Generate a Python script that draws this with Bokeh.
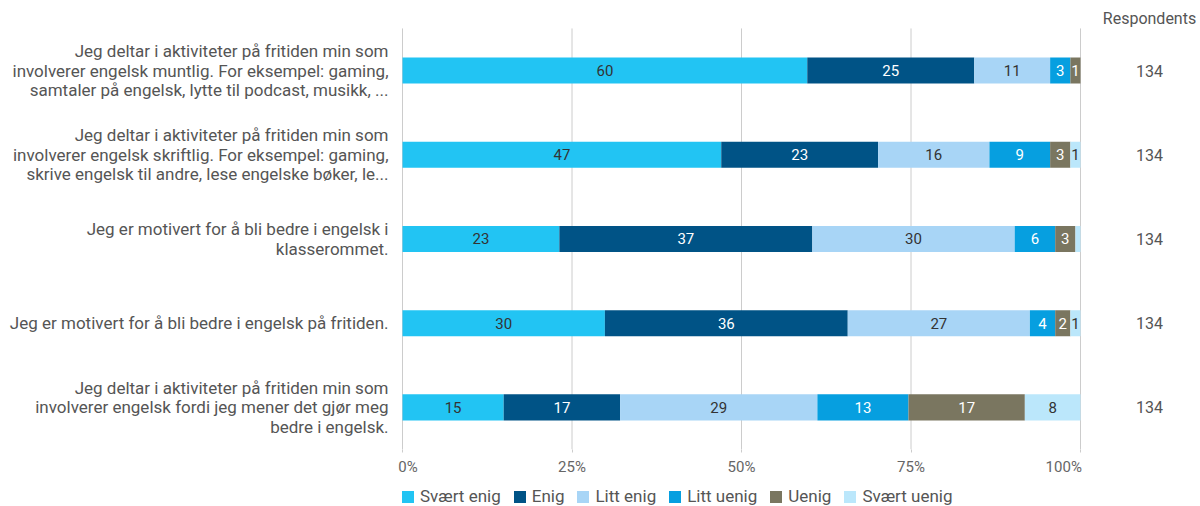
from bokeh.plotting import figure
from bokeh.layouts import column
from bokeh.models import (Range1d, FixedTicker, PrintfTickFormatter,
                          Legend, LegendItem, ColumnDataSource)
from bokeh.core.properties import value
from bokeh.embed import file_html
from bokeh.resources import INLINE

categories = [
    "Jeg deltar i aktiviteter på fritiden min som\ninvolverer engelsk muntlig. For eksempel: gaming,\nsamtaler på engelsk, lytte til podcast, musikk, ...",
    "Jeg deltar i aktiviteter på fritiden min som\ninvolverer engelsk skriftlig. For eksempel: gaming,\nskrive engelsk til andre, lese engelske bøker, le...",
    "Jeg er motivert for å bli bedre i engelsk i\nklasserommet.",
    "Jeg er motivert for å bli bedre i engelsk på fritiden.",
    "Jeg deltar i aktiviteter på fritiden min som\ninvolverer engelsk fordi jeg mener det gjør meg\nbedre i engelsk.",
]
levels = ["Svært enig", "Enig", "Litt enig", "Litt uenig", "Uenig", "Svært uenig"]
svaert_enig = [80, 63, 31, 40, 20]
enig = [33, 31, 50, 48, 23]
litt_enig = [15, 22, 40, 36, 39]
litt_uenig = [4, 12, 8, 5, 18]
uenig = [2, 4, 4, 3, 23]
svaert_uenig = [0, 2, 1, 2, 11]
respondents = [134, 134, 134, 134, 134]
x_ticks = [0, 25, 50, 75, 100]

series = [svaert_enig, enig, litt_enig, litt_uenig, uenig, svaert_uenig]
colors = ["#22c4f3", "#005386", "#a8d5f6", "#069fe0", "#7a7660", "#bbe7fb"]
text_colors = ["#333333", "#ffffff", "#333333", "#ffffff", "#ffffff", "#333333"]

FONT = "Roboto"
NB = "\u00a0"
n = len(categories)
ys = [n - 1 - i for i in range(n)]

# geometry: plot region 0..100 maps to x 402..1080, rows 84.4 px apart
PX = 6.78
X0 = -402 / PX
X1 = 100 + 120 / PX
ROW = 84.4
Y_TOP = n - 0.5 + 28 / ROW

p = figure(width=1200, height=478, output_backend="svg", toolbar_location=None,
           x_range=Range1d(X0, X1), y_range=Range1d(-0.5, Y_TOP),
           min_border_left=0, min_border_right=0, min_border_top=0,
           min_border_bottom=28)
p.outline_line_color = None
p.yaxis.visible = False
p.xgrid.visible = False
p.ygrid.visible = False

p.xaxis.ticker = FixedTicker(ticks=x_ticks)
p.xaxis.formatter = PrintfTickFormatter(format="%d%%")
p.xaxis.major_label_overrides = {0: NB * 3 + "0%", 100: "100%" + NB * 9}
p.xaxis.axis_line_color = None
p.xaxis.major_tick_line_color = "#cccccc"
p.xaxis.major_tick_out = 3
p.xaxis.major_tick_in = 0
p.xaxis.minor_tick_line_color = None
p.xaxis.major_label_standoff = 5
p.xaxis.major_label_text_font = FONT
p.xaxis.major_label_text_font_size = "15px"
p.xaxis.major_label_text_color = "#666666"

# vertical grid lines over the bar area only
p.segment(x0=x_ticks, x1=x_ticks, y0=[-0.5] * len(x_ticks),
          y1=[n - 0.5] * len(x_ticks), line_color="#cccccc", line_width=1)

lefts = [0.0] * n
for k, vals in enumerate(series):
    pcts = [v / r * 100 for v, r in zip(vals, respondents)]
    rights = [l + pc for l, pc in zip(lefts, pcts)]
    src = ColumnDataSource(dict(y=ys, left=lefts, right=rights))
    p.hbar(y="y", left="left", right="right", height=0.31, source=src,
           fill_color=colors[k], line_color=None)
    tx, ty, tt = [], [], []
    for i in range(n):
        if pcts[i] >= 1:
            tx.append((lefts[i] + rights[i]) / 2)
            ty.append(ys[i])
            tt.append(str(int(round(pcts[i]))))
    p.text(x=tx, y=ty, text=tt, text_align="center", text_baseline="middle",
           text_font=value(FONT), text_font_size="15px", text_color=text_colors[k])
    lefts = rights

# category labels (left of bars)
p.text(x=[-14 / PX] * n, y=ys, text=categories, text_align="right",
       text_baseline="middle", text_font=value(FONT), text_font_size="17px",
       text_color="#555555", text_line_height=0.98)
# respondents column
RX = 100 + 69 / PX
p.text(x=[RX] * n, y=ys, text=[str(r) for r in respondents], text_align="center",
       text_baseline="middle", text_font=value(FONT), text_font_size="16px",
       text_color="#555555")
p.text(x=[RX], y=[n - 0.5 + 10 / ROW], text=["Respondents"], text_align="center",
       text_baseline="middle", text_font=value(FONT), text_font_size="16px",
       text_color="#555555")

# legend strip
lg = figure(width=1200, height=28, output_backend="svg", toolbar_location=None,
            x_range=Range1d(0, 1), y_range=Range1d(0, 1),
            x_axis_type=None, y_axis_type=None,
            min_border_left=0, min_border_right=0, min_border_top=0,
            min_border_bottom=0)
lg.outline_line_color = None
lg.xgrid.visible = False
lg.ygrid.visible = False
items = []
for k, name in enumerate(levels):
    r = lg.hbar(y=[-10], left=[0], right=[1], height=0.5,
                fill_color=colors[k], line_color=None)
    items.append(LegendItem(label=name, renderers=[r]))
legend = Legend(items=items, orientation="horizontal", location=(400, 0),
                glyph_width=15, glyph_height=15, label_standoff=5, spacing=11,
                padding=2, margin=0, border_line_color=None,
                background_fill_alpha=0,
                label_text_font=FONT, label_text_font_size="17px",
                label_text_color="#555555")
lg.add_layout(legend, "center")

layout = column(p, lg, spacing=0)
open("out.html", "w").write(file_html(layout, INLINE))
